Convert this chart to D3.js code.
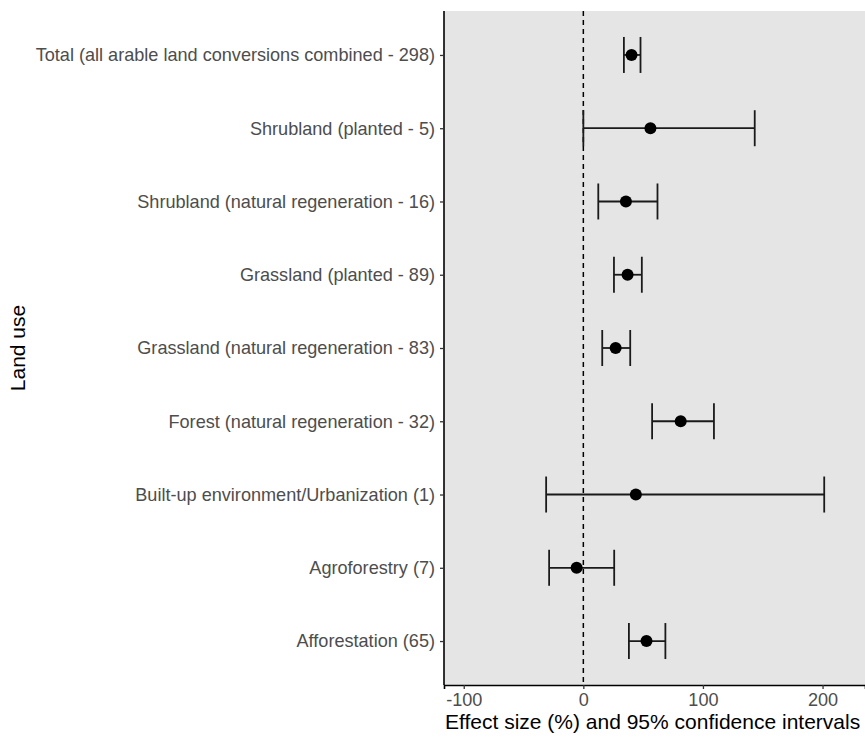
<!DOCTYPE html>
<html>
<head>
<meta charset="utf-8">
<script src="https://cdn.jsdelivr.net/npm/d3@7"></script>
<style>
  body { margin: 0; background: #fff; }
  svg { display: block; }
</style>
</head>
<body>
<svg id="chart" width="865" height="738"></svg>
<script>
// land use categories, top to bottom
var landUse = [
    "Total (all arable land conversions combined - 298)",
    "Shrubland (planted - 5)",
    "Shrubland (natural regeneration - 16)",
    "Grassland (planted - 89)",
    "Grassland (natural regeneration - 83)",
    "Forest (natural regeneration - 32)",
    "Built-up environment/Urbanization (1)",
    "Agroforestry (7)",
    "Afforestation (65)"
];
var effect = [40.3, 56.1, 35.6, 37.0, 27.0, 81.4, 43.9, -5.6, 52.8];
var ciLow  = [33.9, 0.0, 12.5, 25.6, 15.8, 57.5, -31.1, -28.6, 38.1];
var ciHigh = [47.8, 143.3, 62.0, 48.9, 39.2, 109.2, 201.4, 25.8, 68.6];
var xTicks = [-100, 0, 100, 200];

var svg = d3.select("#chart");
var margin = {top: 11, left: 444, bottom: 53};
var width = 865 - margin.left,
    height = 738 - margin.top - margin.bottom;

var g = svg.append("g")
    .attr("transform", "translate(" + margin.left + "," + margin.top + ")");

var x = d3.scaleLinear().domain([-116.5, 235.5]).range([0, width]);
var y = d3.scalePoint().domain(landUse).range([0, height]).padding(0.6);

var data = landUse.map(function(d, i) {
    return {name: d, est: effect[i], lo: ciLow[i], hi: ciHigh[i]};
});

// panel
g.append("rect")
    .attr("width", width)
    .attr("height", height)
    .attr("fill", "#e5e5e5");

// zero reference line
g.append("line")
    .attr("x1", x(0)).attr("x2", x(0))
    .attr("y1", 0).attr("y2", height)
    .attr("stroke", "#000")
    .attr("stroke-width", 1.5)
    .attr("stroke-dasharray", "5,4");

// error bars
var bars = g.selectAll(".bar")
    .data(data)
    .enter().append("g")
    .attr("class", "bar")
    .attr("transform", function(d) { return "translate(0," + y(d.name) + ")"; })
    .attr("stroke", "#1a1a1a")
    .attr("stroke-width", 1.8);

bars.append("line")
    .attr("x1", function(d) { return x(d.lo); })
    .attr("x2", function(d) { return x(d.hi); });
bars.append("line")
    .attr("x1", function(d) { return x(d.lo); })
    .attr("x2", function(d) { return x(d.lo); })
    .attr("y1", -18).attr("y2", 18);
bars.append("line")
    .attr("x1", function(d) { return x(d.hi); })
    .attr("x2", function(d) { return x(d.hi); })
    .attr("y1", -18).attr("y2", 18);

bars.append("circle")
    .attr("cx", function(d) { return x(d.est); })
    .attr("r", 6)
    .attr("fill", "#000")
    .attr("stroke", "none");

// axes
var xAxis = g.append("g")
    .attr("transform", "translate(0," + height + ")")
    .call(d3.axisBottom(x).tickValues(xTicks)
        .tickFormat(function(d) { return String(d); })
        .tickSizeOuter(0).tickSize(4).tickPadding(4));

var yAxis = g.append("g")
    .call(d3.axisLeft(y).tickSizeOuter(0).tickSize(4).tickPadding(5));

[xAxis, yAxis].forEach(function(a) {
    a.select(".domain").attr("stroke", "#000").attr("stroke-width", 1.6);
    a.selectAll(".tick line").attr("stroke", "#333").attr("stroke-width", 1.3);
    a.selectAll(".tick text")
        .attr("fill", "#4d4d4d")
        .style("font-family", "Liberation Sans, Arial, sans-serif")
        .style("font-size", "18.1px");
});
yAxis.select(".domain").attr("d", "M0," + height + "V0");

// titles
svg.append("text")
    .attr("x", margin.left + 1)
    .attr("y", 729)
    .attr("fill", "#000")
    .style("font-family", "Liberation Sans, Arial, sans-serif")
    .style("font-size", "21px")
    .text("Effect size (%) and 95% confidence intervals");

svg.append("text")
    .attr("transform", "translate(25,348) rotate(-90)")
    .attr("text-anchor", "middle")
    .attr("fill", "#000")
    .style("font-family", "Liberation Sans, Arial, sans-serif")
    .style("font-size", "21px")
    .text("Land use");
</script>
</body>
</html>
